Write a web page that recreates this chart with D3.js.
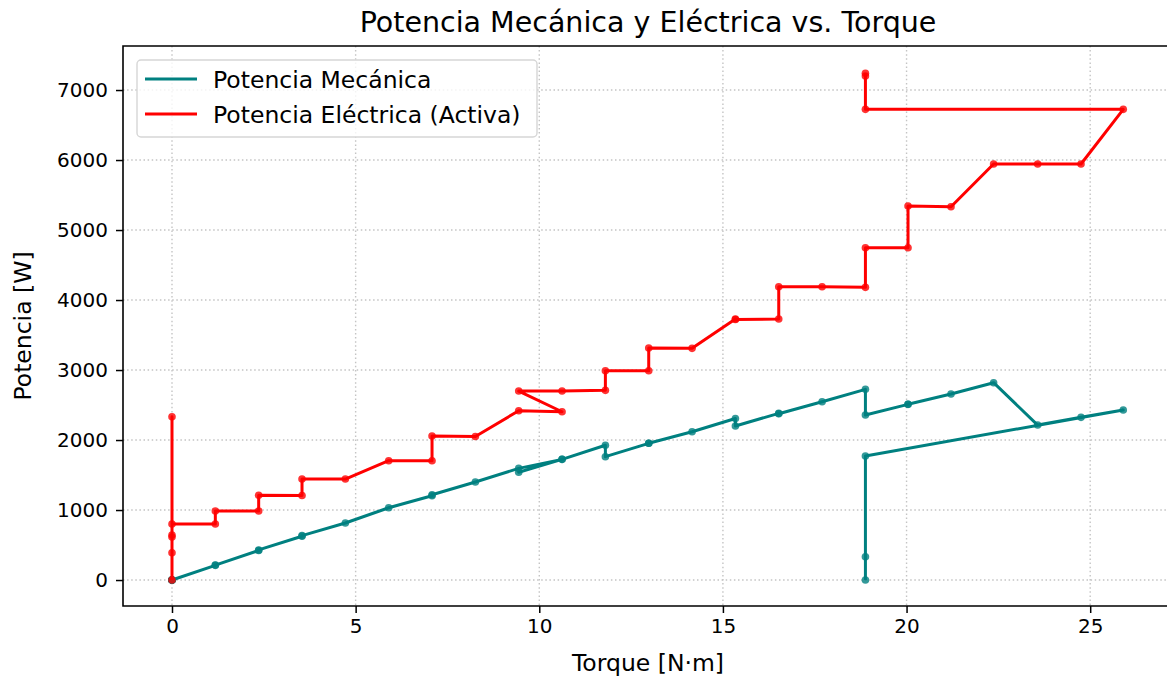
<!DOCTYPE html>
<html>
<head>
<meta charset="utf-8">
<script src="https://cdn.jsdelivr.net/npm/d3@7"></script>
<style>
body { margin: 0; background: #fff; }
svg text { font-family: "DejaVu Sans", sans-serif; fill: #000; }
</style>
</head>
<body>
<svg id="chart" width="1167" height="679"></svg>
<script>
// data
var torque = [0, 0, 0, 0, 0, 0, 1.18, 1.18, 2.36, 2.36, 3.54, 3.54, 4.72, 5.9, 7.08, 7.08,
    8.26, 9.44, 10.62, 9.44, 10.62, 11.8, 11.8, 12.98, 12.98, 14.16, 15.34, 15.34, 16.52, 16.52,
    17.7, 18.88, 18.88, 20.04, 20.04, 21.21, 22.37, 23.57, 24.75, 25.9, 18.88, 18.88, 18.88];
var p_mech = [0, 0, 0, 0, 0, 0, 210, 214, 422, 430, 625, 635, 815, 1033, 1204, 1218,
    1400, 1595, 1724, 1540, 1724, 1925, 1762, 1953, 1955, 2119, 2308, 2200, 2381, 2376,
    2547, 2724, 2357, 2510, 2512, 2657, 2819, 2214, 2324, 2429, 1771, 333, 0];
var p_elec = [0, 390, 614, 643, 2333, 800, 800, 986, 986, 1212, 1207, 1443, 1443, 1705, 1705, 2057,
    2050, 2419, 2404, 2700, 2700, 2710, 2990, 2990, 3315, 3310, 3729, 3722, 3729, 4190,
    4190, 4181, 4747, 4747, 5343, 5333, 5943, 5943, 5943, 6724, 6724, 7200, 7238];

var x_ticks = [0, 5, 10, 15, 20, 25];
var y_ticks = [0, 1000, 2000, 3000, 4000, 5000, 6000, 7000];

var series_names = ["Potencia Mecánica", "Potencia Eléctrica (Activa)"];
const MECH_COLOR = '#008080';
const ELEC_COLOR = '#ff0000';

var svg = d3.select("#chart");

// plot area in pixels (right spine falls just outside the picture)
var plot_l = 123, plot_r = 1171, plot_t = 46, plot_b = 606;

var x = d3.scaleLinear().domain([-1.334, 27.2]).range([plot_l, plot_r]);
var y = d3.scaleLinear().domain([-371, 7629]).range([plot_b, plot_t]);

function make_points(vals){
    return torque.map(function(t, i){ return [t, vals[i]]; });
}

// grid lines
var grid = svg.append("g").attr("class", "grid");
grid.selectAll("line.gx")
    .data(x_ticks)
    .enter().append("line")
    .attr("x1", function(d){ return x(d); })
    .attr("x2", function(d){ return x(d); })
    .attr("y1", plot_t).attr("y2", plot_b)
    .attr("stroke", "#c4c4c4")
    .attr("stroke-width", 1.4)
    .attr("stroke-dasharray", "1.5,2.6");
grid.selectAll("line.gy")
    .data(y_ticks)
    .enter().append("line")
    .attr("y1", function(d){ return y(d); })
    .attr("y2", function(d){ return y(d); })
    .attr("x1", plot_l).attr("x2", plot_r)
    .attr("stroke", "#c4c4c4")
    .attr("stroke-width", 1.4)
    .attr("stroke-dasharray", "1.5,2.6");

// axes
var x_axis = d3.axisBottom(x).tickValues(x_ticks).tickSize(7).tickPadding(6).tickFormat(d3.format("d"));
var y_axis = d3.axisLeft(y).tickValues(y_ticks).tickSize(7).tickPadding(8).tickFormat(d3.format("d"));

var gx = svg.append("g")
    .attr("transform", "translate(0," + plot_b + ")")
    .call(x_axis);
var gy = svg.append("g")
    .attr("transform", "translate(" + plot_l + ",0)")
    .call(y_axis);

[gx, gy].forEach(function(g){
    g.select(".domain").remove();
    g.selectAll(".tick line").attr("stroke", "#000").attr("stroke-width", 1.5);
    g.selectAll(".tick text").style("font-size", "20px");
});

// series lines and markers
function draw_series(vals, color){
    var pts = make_points(vals);
    var line = d3.line()
        .x(function(d){ return x(d[0]); })
        .y(function(d){ return y(d[1]); });
    svg.append("path")
        .datum(pts)
        .attr("d", line)
        .attr("fill", "none")
        .attr("stroke", color)
        .attr("stroke-width", 3)
        .attr("stroke-linejoin", "round");
    svg.append("g").selectAll("circle")
        .data(pts)
        .enter().append("circle")
        .attr("cx", function(d){ return x(d[0]); })
        .attr("cy", function(d){ return y(d[1]); })
        .attr("r", 3.8)
        .attr("fill", color)
        .attr("fill-opacity", 0.8);
}

draw_series(p_mech, MECH_COLOR);
draw_series(p_elec, ELEC_COLOR);

// frame: left, top, bottom spines
svg.append("path")
    .attr("d", "M" + plot_r + "," + plot_t + "H" + plot_l + "V" + plot_b + "H" + plot_r)
    .attr("fill", "none")
    .attr("stroke", "#000")
    .attr("stroke-width", 1.6);

// legend
var legend = svg.append("g");
legend.append("rect")
    .attr("x", 137).attr("y", 60)
    .attr("width", 400).attr("height", 77)
    .attr("rx", 4)
    .attr("fill", "#fff")
    .attr("fill-opacity", 0.8)
    .attr("stroke", "#d6d6d6")
    .attr("stroke-width", 1.4);
var legend_colors = [MECH_COLOR, ELEC_COLOR];
series_names.forEach(function(name, i){
    var ly = 79 + i * 35;
    legend.append("line")
        .attr("x1", 145).attr("x2", 197)
        .attr("y1", ly).attr("y2", ly)
        .attr("stroke", legend_colors[i])
        .attr("stroke-width", 3);
    legend.append("text")
        .attr("x", 213).attr("y", ly + 8.5)
        .style("font-size", "23.5px")
        .text(name);
});

// title and axis labels
svg.append("text")
    .attr("x", 648).attr("y", 32)
    .attr("text-anchor", "middle")
    .style("font-size", "28.5px")
    .text("Potencia Mecánica y Eléctrica vs. Torque");

svg.append("text")
    .attr("x", 648).attr("y", 671)
    .attr("text-anchor", "middle")
    .style("font-size", "23.5px")
    .text("Torque [N·m]");

svg.append("text")
    .attr("transform", "translate(31,326) rotate(-90)")
    .attr("text-anchor", "middle")
    .style("font-size", "23.5px")
    .text("Potencia [W]");
</script>
</body>
</html>
